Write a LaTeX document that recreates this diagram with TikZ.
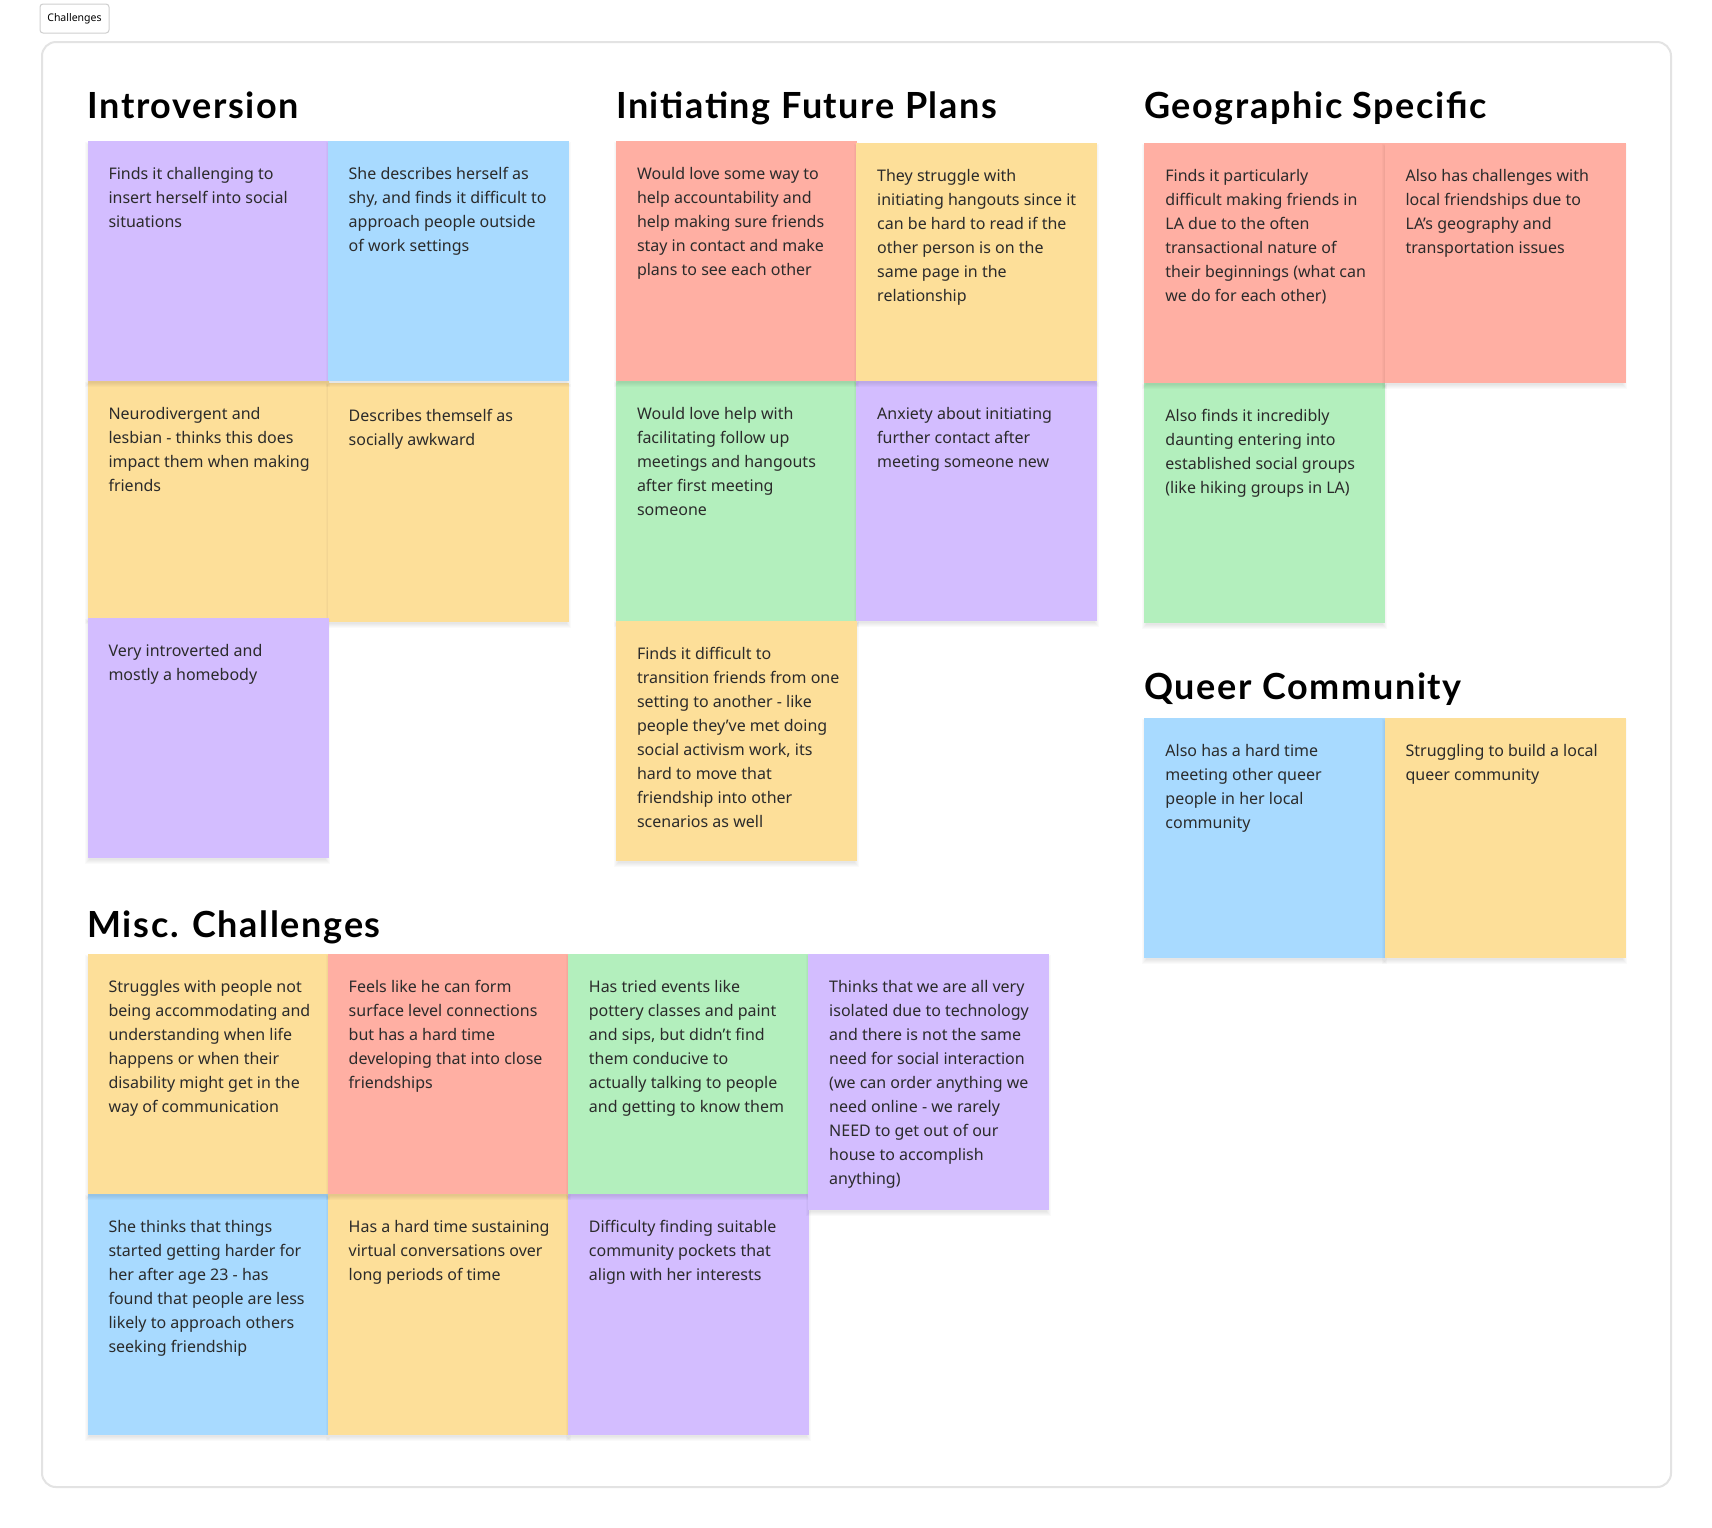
\documentclass[tikz,border=0pt]{standalone}
\usepackage{fontspec}
\setmainfont{Noto Sans}
\newfontfamily\titlefont{Lato}[LetterSpace=4.5]
\usetikzlibrary{positioning}
\definecolor{spurple}{HTML}{D3BDFF}
\definecolor{sblue}{HTML}{A8DAFF}
\definecolor{syellow}{HTML}{FDDF99}
\definecolor{sred}{HTML}{FFAFA3}
\definecolor{sgreen}{HTML}{B3EFBD}
\definecolor{stext}{HTML}{2B2B2B}
\definecolor{frameline}{HTML}{E3E3E3}
\definecolor{tagline}{HTML}{CFCFCF}
\tikzset{
  stickybox/.style={rectangle, anchor=north west, inner sep=0pt, minimum width=241pt},
  stickytext/.style={anchor=north west, inner sep=0pt, align=left, text=stext,
    font=\fontsize{16}{24}\selectfont},
  titletext/.style={anchor=base west, inner sep=0pt, text=black,
    font=\titlefont\bfseries\fontsize{36}{40}\selectfont},
}
\newcommand\sticky[6]{%
  \foreach \k in {1,...,5}{\fill[black, opacity=0.02] (#2+3-\k, #3+6-\k) rectangle (#2+238+\k, #3+#4+1+\k);}
  \node[stickybox, fill=#5, minimum height=#4pt] (#1) at (#2,#3) {};
  \node[stickytext] (#1t) at ([shift={(21,21)}]#1.north west) {\strut #6};
}
\begin{document}
\begin{tikzpicture}[x=1pt, y=-1pt]
\useasboundingbox (0,0) rectangle (1712,1527);
\fill[white] (0,0) rectangle (1712,1527);
% tag and frame
\node[draw=tagline, line width=1pt, rounded corners=3pt, minimum width=69pt, minimum height=29pt,
  inner sep=0pt, font=\fontsize{10.5}{12}\selectfont] (tag) at (74.5,18.5) {Challenges};
\node[draw=frameline, line width=2pt, rounded corners=14pt, anchor=north west, inner sep=0pt,
  minimum width=1629pt, minimum height=1445pt] (frame) at (41,41) {};
% titles
\node[titletext] (tintro) at (87.3,118) {Introversion};
\node[titletext] (tinit) at (615.8,118) {Initiating Future Plans};
\node[titletext] (tgeo) at (1144.2,118) {Geographic Specific};
\node[titletext] (tqueer) at (1144.2,699) {Queer Community};
\node[titletext] (tmisc) at (87.3,937) {Misc. Challenges};
% Introversion
\sticky{s3}{87.3}{381}{237}{syellow}{Neurodivergent and\\lesbian - thinks this does\\impact them when making\\friends}
\sticky{s4}{327.5}{383}{239}{syellow}{Describes themself as\\socially awkward}
\sticky{s1}{87.3}{141}{240}{spurple}{Finds it challenging to\\insert herself into social\\situations}
\sticky{s2}{327.5}{141}{240}{sblue}{She describes herself as\\shy, and finds it difficult to\\approach people outside\\of work settings}
\sticky{s5}{87.3}{618}{240}{spurple}{Very introverted and\\mostly a homebody}
% Initiating Future Plans
\sticky{i3}{615.8}{381}{240}{sgreen}{Would love help with\\facilitating follow up\\meetings and hangouts\\after first meeting\\someone}
\sticky{i4}{856}{381}{240}{spurple}{Anxiety about initiating\\further contact after\\meeting someone new}
\sticky{i1}{615.8}{141}{240}{sred}{Would love some way to\\help accountability and\\help making sure friends\\stay in contact and make\\plans to see each other}
\sticky{i2}{856}{143}{238}{syellow}{They struggle with\\initiating hangouts since it\\can be hard to read if the\\other person is on the\\same page in the\\relationship}
\sticky{i5}{615.8}{621}{240}{syellow}{Finds it difficult to\\transition friends from one\\setting to another - like\\people they’ve met doing\\social activism work, its\\hard to move that\\friendship into other\\scenarios as well}
% Geographic Specific
\sticky{g3}{1144.2}{383}{240}{sgreen}{Also finds it incredibly\\daunting entering into\\established social groups\\(like hiking groups in LA)}
\sticky{g1}{1144.2}{143}{240}{sred}{Finds it particularly\\difficult making friends in\\LA due to the often\\transactional nature of\\their beginnings (what can\\we do for each other)}
\sticky{g2}{1384.4}{143}{240}{sred}{Also has challenges with\\local friendships due to\\LA’s geography and\\transportation issues}
% Queer Community
\sticky{q1}{1144.2}{718}{240}{sblue}{Also has a hard time\\meeting other queer\\people in her local\\community}
\sticky{q2}{1384.4}{718}{240}{syellow}{Struggling to build a local\\queer community}
% Misc. Challenges
\sticky{m5}{87.3}{1194}{241}{sblue}{She thinks that things\\started getting harder for\\her after age 23 - has\\found that people are less\\likely to approach others\\seeking friendship}
\sticky{m6}{327.5}{1194}{241}{syellow}{Has a hard time sustaining\\virtual conversations over\\long periods of time}
\sticky{m7}{567.7}{1194}{241}{spurple}{Difficulty finding suitable\\community pockets that\\align with her interests}
\sticky{m1}{87.3}{954}{240}{syellow}{Struggles with people not\\being accommodating and\\understanding when life\\happens or when their\\disability might get in the\\way of communication}
\sticky{m2}{327.5}{954}{240}{sred}{Feels like he can form\\surface level connections\\but has a hard time\\developing that into close\\friendships}
\sticky{m3}{567.7}{954}{240}{sgreen}{Has tried events like\\pottery classes and paint\\and sips, but didn’t find\\them conducive to\\actually talking to people\\and getting to know them}
\sticky{m4}{808}{954}{256}{spurple}{Thinks that we are all very\\isolated due to technology\\and there is not the same\\need for social interaction\\(we can order anything we\\need online - we rarely\\NEED to get out of our\\house to accomplish\\anything)}
\end{tikzpicture}
\end{document}
